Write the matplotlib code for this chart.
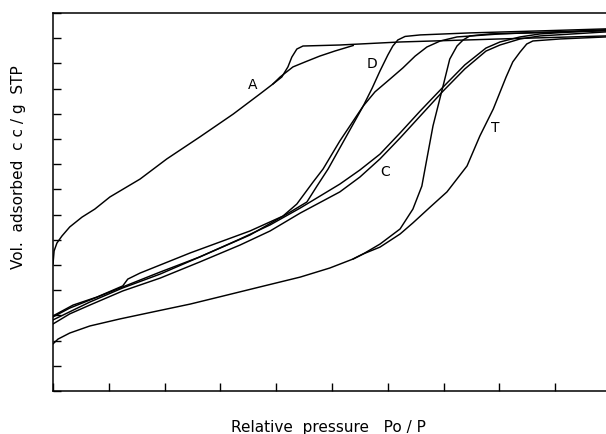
import numpy as np
import matplotlib
matplotlib.use("Agg")
import matplotlib.pyplot as plt

# isotherm data (x = relative pressure, y = volume, arbitrary units)
a_ads_x = [0, 0.002, 0.007, 0.016, 0.030, 0.052, 0.075, 0.102, 0.156, 0.204, 0.263, 0.323,
           0.371, 0.394, 0.410, 0.421, 0.428, 0.437, 0.448, 0.514, 0.622, 0.801, 0.991, 1.0]
a_ads_y = [5.04, 5.56, 5.87, 6.15, 6.51, 6.90, 7.22, 7.70, 8.41, 9.21, 10.08, 10.99,
           11.79, 12.18, 12.46, 12.86, 13.25, 13.57, 13.69, 13.73, 13.85, 13.97, 14.09, 14.10]
a_des_x = [0.538, 0.505, 0.478, 0.452, 0.430, 0.407, 0.394]
a_des_y = [13.71, 13.49, 13.29, 13.06, 12.86, 12.46, 12.18]

d_ads_x = [0, 0.036, 0.079, 0.125, 0.134, 0.156, 0.246, 0.353, 0.412, 0.437, 0.466, 0.484,
           0.514, 0.556, 0.577, 0.604, 0.627, 0.649, 0.670, 0.694, 0.724, 0.801, 0.991, 1.0]
d_ads_y = [2.98, 3.41, 3.73, 4.17, 4.44, 4.68, 5.48, 6.35, 6.94, 7.42, 8.29, 8.81,
           9.92, 11.31, 11.87, 12.38, 12.82, 13.29, 13.65, 13.89, 14.05, 14.17, 14.33, 14.33]
d_des_x = [0, 0.066, 0.125, 0.192, 0.263, 0.353, 0.425, 0.455, 0.473, 0.493, 0.523, 0.556,
           0.572, 0.586, 0.600, 0.609, 0.618, 0.631, 0.658, 0.747, 0.873, 0.991, 1.0]
d_des_y = [2.82, 3.53, 4.09, 4.64, 5.32, 6.19, 7.10, 7.50, 8.13, 8.81, 10.00, 11.31,
           12.02, 12.70, 13.33, 13.69, 13.93, 14.07, 14.13, 14.21, 14.29, 14.37, 14.37]

c_ads_x = [0, 0.030, 0.066, 0.125, 0.192, 0.263, 0.335, 0.389, 0.443, 0.514, 0.550, 0.586,
           0.622, 0.658, 0.699, 0.738, 0.776, 0.801, 0.837, 0.873, 0.991, 1.0]
c_ads_y = [2.66, 3.06, 3.41, 3.97, 4.48, 5.12, 5.79, 6.35, 7.06, 7.90, 8.49, 9.21,
           10.04, 10.91, 11.90, 12.78, 13.49, 13.73, 13.97, 14.09, 14.25, 14.25]
c_des_x = [0, 0.030, 0.066, 0.125, 0.192, 0.263, 0.335, 0.389, 0.443, 0.514, 0.550, 0.586,
           0.622, 0.658, 0.699, 0.738, 0.776, 0.801, 0.837, 0.873, 0.991, 1.0]
c_des_y = [2.94, 3.29, 3.61, 4.13, 4.72, 5.32, 6.03, 6.59, 7.26, 8.21, 8.77, 9.40,
           10.24, 11.11, 12.06, 12.94, 13.61, 13.85, 14.05, 14.17, 14.33, 14.33]

t_ads_x = [0, 0.009, 0.030, 0.066, 0.120, 0.186, 0.246, 0.305, 0.371, 0.443, 0.496, 0.538,
           0.556, 0.586, 0.622, 0.645, 0.676, 0.706, 0.742, 0.765, 0.789, 0.812, 0.824,
           0.837, 0.849, 0.860, 0.909, 0.991, 1.0]
t_ads_y = [1.87, 2.06, 2.30, 2.58, 2.86, 3.17, 3.45, 3.77, 4.13, 4.52, 4.88, 5.24,
           5.44, 5.71, 6.23, 6.67, 7.30, 7.90, 8.93, 10.12, 11.19, 12.46, 13.06,
           13.45, 13.77, 13.89, 13.97, 14.05, 14.05]
t_des_x = [0.538, 0.556, 0.586, 0.622, 0.645, 0.661, 0.670, 0.681, 0.699, 0.711, 0.724,
           0.735, 0.747, 0.783, 0.991, 1.0]
t_des_y = [5.24, 5.44, 5.83, 6.43, 7.22, 8.13, 9.21, 10.52, 12.10, 13.17, 13.69,
           13.93, 14.09, 14.17, 14.29, 14.29]

labels = ["A", "D", "C", "T"]
label_x = [0.358, 0.572, 0.595, 0.792]
label_y = [12.18, 13.02, 8.73, 10.48]

fig = plt.figure(figsize=(6.06, 4.35), dpi=100)
ax = fig.add_axes([53 / 606, 43 / 435, 558 / 606, 378 / 435])

curves = [(a_ads_x, a_ads_y), (a_des_x, a_des_y), (d_ads_x, d_ads_y), (d_des_x, d_des_y),
          (c_ads_x, c_ads_y), (c_des_x, c_des_y), (t_ads_x, t_ads_y), (t_des_x, t_des_y)]
for xs, ys in curves:
    ax.plot(xs, ys, color="black", lw=1.05, solid_joinstyle="round")

for s, x, y in zip(labels, label_x, label_y):
    ax.text(x, y, s, fontsize=10, ha="center", va="center")

ax.set_xlim(0, 1.0)
ax.set_ylim(0, 15)
ax.set_xticks(np.arange(0, 1.01, 0.1))
ax.set_yticks(np.arange(0, 15.1, 1))
ax.tick_params(direction="in", length=6, width=1.0, labelbottom=False, labelleft=False)
for sp in ax.spines.values():
    sp.set_linewidth(1.1)

ax.text(0.493, -0.093, "Relative  pressure   Po / P", transform=ax.transAxes,
        fontsize=11, ha="center", va="center")
ax.text(-0.061, 0.595, "Vol.  adsorbed  c c / g  STP", transform=ax.transAxes,
        fontsize=11, ha="center", va="center", rotation=90)

fig.savefig("out.png", dpi=100)
